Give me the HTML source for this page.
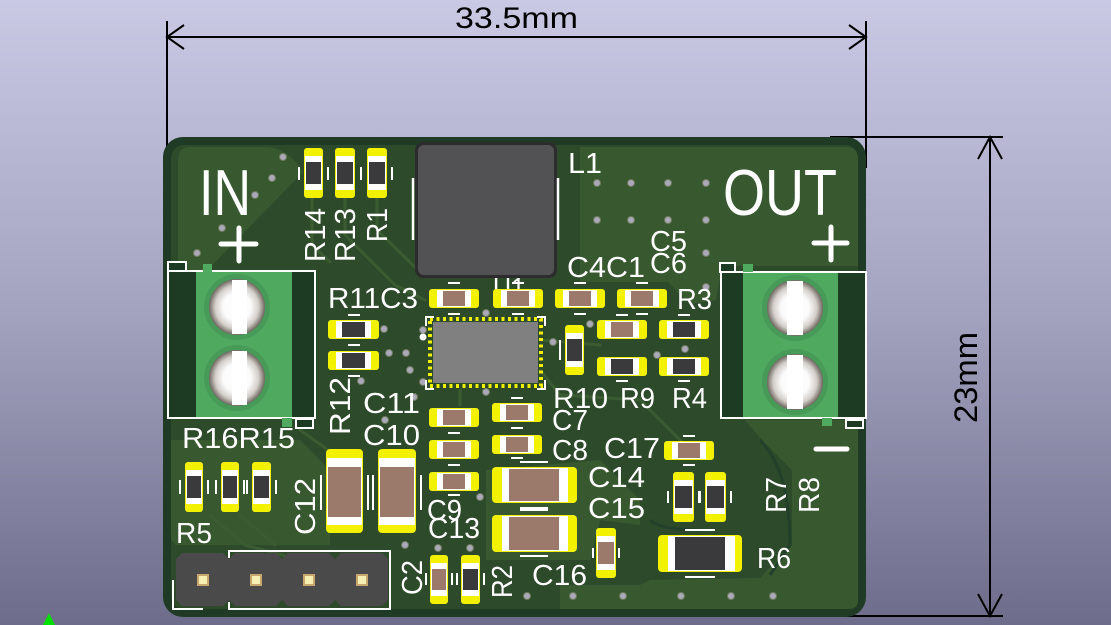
<!DOCTYPE html>
<html><head><meta charset="utf-8"><style>
html,body{margin:0;padding:0;width:1111px;height:625px;overflow:hidden;}
svg{display:block;}
text{font-family:"Liberation Sans",sans-serif;}
</style></head><body>
<svg width="1111" height="625" viewBox="0 0 1111 625" xmlns="http://www.w3.org/2000/svg">
<defs>
<linearGradient id="bg" x1="0" y1="0" x2="0" y2="1">
<stop offset="0" stop-color="#c9c9e4"/><stop offset="0.5" stop-color="#a3a3c0"/><stop offset="1" stop-color="#6d6d8b"/>
</linearGradient>
<radialGradient id="hole" cx="0.5" cy="0.5" r="0.5">
<stop offset="0" stop-color="#ffffff"/><stop offset="0.5" stop-color="#fbfbfb"/><stop offset="0.78" stop-color="#d2cdc8"/><stop offset="1" stop-color="#6f6660"/>
</radialGradient>
</defs>
<rect width="1111" height="625" fill="url(#bg)"/>

<!-- dimensions -->
<g stroke="#000" stroke-width="2" fill="none">
<line x1="167" y1="21" x2="167" y2="168"/>
<line x1="866" y1="21" x2="866" y2="168"/>
<line x1="167" y1="37" x2="866" y2="37"/>
<polyline points="184,25 167,37 184,49"/>
<polyline points="849,25 866,37 849,49"/>
<line x1="830" y1="137" x2="1003" y2="137"/>
<line x1="828" y1="616" x2="1003" y2="616"/>
<line x1="990" y1="137" x2="990" y2="616"/>
<polyline points="978,159 990,137 1002,159"/>
<polyline points="978,594 990,616 1002,594"/>
</g>
<text x="455" y="28" font-size="30" fill="#000" textLength="123" lengthAdjust="spacingAndGlyphs">33.5mm</text>
<text transform="translate(977,423) rotate(-90)" font-size="32" fill="#000" textLength="91" lengthAdjust="spacingAndGlyphs">23mm</text>

<!-- board -->
<rect x="163" y="137" width="703" height="480" rx="20" fill="#1f3b26"/>
<rect x="171" y="145" width="687" height="464" rx="13" fill="#2d4b2a"/>
<!-- lighter pours -->
<g fill="#385930">
<path d="M178,160 Q178,147 191,147 L268,147 Q282,148 296,162 L303,172 L186,292 L178,292 Z"/>
<path d="M580,147 L846,147 Q858,147 858,159 L858,266 L722,266 L716,300 L690,304 L668,282 L580,282 Z"/>
<path d="M745,420 L858,420 L858,600 Q858,609 849,609 L560,609 L560,585 L640,585 L650,580 L760,578 L792,545 L792,470 L762,440 Z"/>
<path d="M171,440 L300,440 L330,470 L330,545 L176,545 L171,540 Z"/>
<path d="M486,470 L600,460 L640,500 L640,525 L600,520 L590,560 L486,560 Z"/>
</g>
<!-- some traces -->
<g stroke="#3b5c32" stroke-width="3" fill="none" stroke-linecap="round">
<polyline points="345,198 345,235 395,285 425,300"/>
<polyline points="377,198 377,230 420,272"/>
<polyline points="312,198 312,245 330,262"/>
<polyline points="300,430 335,455"/>
<polyline points="210,515 245,545 300,560"/>
<polyline points="240,515 275,545"/>
<polyline points="540,340 600,345"/>
<polyline points="460,390 460,405"/>
<polyline points="540,370 560,395 640,400 690,450"/>
</g>
<g stroke="#22402a" stroke-width="3" fill="none">
<path d="M760,440 Q790,470 790,545 L770,575"/>
<path d="M650,520 Q660,530 700,530"/>
</g>

<!-- L1 -->
<rect x="415" y="142" width="142" height="136" rx="8" fill="#2c2b2d"/>
<rect x="418" y="145" width="136" height="130" rx="6" fill="#525153"/>
<g stroke="#fff" stroke-width="2.5">
<line x1="413" y1="178" x2="413" y2="240"/>
<line x1="558" y1="178" x2="558" y2="240"/>
</g>

<!-- vias -->
<g fill="#a9a9b9" stroke="#6f7a5c" stroke-width="1">
<circle cx="283" cy="157" r="3.5"/><circle cx="272" cy="178" r="3.5"/><circle cx="255" cy="195" r="3.5"/><circle cx="222" cy="228" r="3.5"/><circle cx="197" cy="253" r="3.5"/>
<circle cx="597" cy="183" r="3.5"/><circle cx="631" cy="183" r="3.5"/><circle cx="668" cy="183" r="3.5"/><circle cx="706" cy="183" r="3.5"/>
<circle cx="597" cy="220" r="3.5"/><circle cx="631" cy="220" r="3.5"/><circle cx="668" cy="220" r="3.5"/><circle cx="706" cy="220" r="3.5"/>
<circle cx="706" cy="253" r="3.5"/><circle cx="706" cy="287" r="3.5"/>
<circle cx="486" cy="313" r="3.5"/><circle cx="423" cy="330" r="3.5"/><circle cx="553" cy="342" r="3.5"/><circle cx="590" cy="324" r="3.5"/><circle cx="657" cy="355" r="3.5"/><circle cx="685" cy="349" r="3.5"/>
<circle cx="384" cy="329" r="3.5"/><circle cx="389" cy="353" r="3.5"/><circle cx="406" cy="353" r="3.5"/><circle cx="410" cy="370" r="3.5"/><circle cx="423" cy="382" r="3.5"/><circle cx="361" cy="381" r="3.5"/><circle cx="414" cy="397" r="3.5"/><circle cx="486" cy="392" r="3.5"/><circle cx="385" cy="420" r="3.5"/>
<circle cx="480" cy="497" r="3.5"/><circle cx="405" cy="545" r="3.5"/><circle cx="438" cy="548" r="3.5"/><circle cx="470" cy="548" r="3.5"/>
<circle cx="527" cy="596" r="3.5"/><circle cx="573" cy="596" r="3.5"/><circle cx="623" cy="596" r="3.5"/><circle cx="681" cy="596" r="3.5"/><circle cx="731" cy="596" r="3.5"/><circle cx="773" cy="596" r="3.5"/>
</g>

<!-- U1 -->
<text x="493" y="298" font-size="29" fill="#fff" textLength="32" lengthAdjust="spacingAndGlyphs">U1</text>
<rect x="430" y="319" width="111" height="67" fill="none" stroke="#f2f200" stroke-width="4" stroke-dasharray="3 3.5"/>
<rect x="433" y="322" width="105" height="61" fill="#808080"/>
<g stroke="#fff" stroke-width="2" fill="none">
<polyline points="426,326 426,317 434,317"/><polyline points="537,317 545,317 545,326"/>
<polyline points="426,380 426,389 434,389"/><polyline points="537,389 545,389 545,380"/>
</g>
<circle cx="423" cy="337" r="3.5" fill="#fff"/>

<!-- small horizontal chips -->
<g>
<!-- top row caps -->
<rect x="429" y="289" width="50" height="19" rx="3" fill="#f2f200"/><rect x="437" y="290" width="34" height="17" fill="#fff"/><rect x="443" y="291" width="22" height="15" fill="#9b7a6b"/>
<rect x="493" y="289" width="50" height="19" rx="3" fill="#f2f200"/><rect x="501" y="290" width="34" height="17" fill="#fff"/><rect x="507" y="291" width="22" height="15" fill="#9b7a6b"/>
<rect x="555" y="289" width="50" height="19" rx="3" fill="#f2f200"/><rect x="563" y="290" width="34" height="17" fill="#fff"/><rect x="569" y="291" width="22" height="15" fill="#9b7a6b"/>
<rect x="617" y="289" width="50" height="19" rx="3" fill="#f2f200"/><rect x="625" y="290" width="34" height="17" fill="#fff"/><rect x="631" y="291" width="22" height="15" fill="#9b7a6b"/>
<!-- rows right of U1 -->
<rect x="597" y="320" width="50" height="19" rx="3" fill="#f2f200"/><rect x="605" y="321" width="34" height="17" fill="#fff"/><rect x="611" y="322" width="22" height="15" fill="#9b7a6b"/>
<rect x="659" y="320" width="50" height="19" rx="3" fill="#f2f200"/><rect x="667" y="321" width="34" height="17" fill="#fff"/><rect x="673" y="322" width="22" height="15" fill="#3a3a3c"/>
<rect x="597" y="357" width="50" height="19" rx="3" fill="#f2f200"/><rect x="605" y="358" width="34" height="17" fill="#fff"/><rect x="611" y="359" width="22" height="15" fill="#3a3a3c"/>
<rect x="659" y="357" width="50" height="19" rx="3" fill="#f2f200"/><rect x="667" y="358" width="34" height="17" fill="#fff"/><rect x="673" y="359" width="22" height="15" fill="#3a3a3c"/>
<!-- left col caps -->
<rect x="429" y="408" width="50" height="19" rx="3" fill="#f2f200"/><rect x="437" y="409" width="34" height="17" fill="#fff"/><rect x="443" y="410" width="22" height="15" fill="#9b7a6b"/>
<rect x="429" y="440" width="50" height="19" rx="3" fill="#f2f200"/><rect x="437" y="441" width="34" height="17" fill="#fff"/><rect x="443" y="442" width="22" height="15" fill="#9b7a6b"/>
<rect x="429" y="472" width="50" height="19" rx="3" fill="#f2f200"/><rect x="437" y="473" width="34" height="17" fill="#fff"/><rect x="443" y="474" width="22" height="15" fill="#9b7a6b"/>
<!-- mid col caps -->
<rect x="492" y="403" width="50" height="19" rx="3" fill="#f2f200"/><rect x="500" y="404" width="34" height="17" fill="#fff"/><rect x="506" y="405" width="22" height="15" fill="#9b7a6b"/>
<rect x="492" y="435" width="50" height="19" rx="3" fill="#f2f200"/><rect x="500" y="436" width="34" height="17" fill="#fff"/><rect x="506" y="437" width="22" height="15" fill="#9b7a6b"/>
<!-- C17 -->
<rect x="664" y="441" width="50" height="19" rx="3" fill="#f2f200"/><rect x="672" y="442" width="34" height="17" fill="#fff"/><rect x="678" y="443" width="22" height="15" fill="#9b7a6b"/>
<!-- R11 R12 -->
<rect x="328" y="320" width="51" height="19" rx="3" fill="#f2f200"/><rect x="336" y="321" width="35" height="17" fill="#fff"/><rect x="342" y="322" width="23" height="15" fill="#3a3a3c"/>
<rect x="328" y="351" width="51" height="19" rx="3" fill="#f2f200"/><rect x="336" y="352" width="35" height="17" fill="#fff"/><rect x="342" y="353" width="23" height="15" fill="#3a3a3c"/>
</g>

<!-- small vertical chips -->
<g>
<rect x="304" y="148" width="19" height="50" rx="3" fill="#f2f200"/><rect x="305" y="156" width="17" height="34" fill="#fff"/><rect x="306" y="162" width="15" height="22" fill="#3a3a3c"/>
<rect x="335" y="148" width="20" height="50" rx="3" fill="#f2f200"/><rect x="336" y="156" width="18" height="34" fill="#fff"/><rect x="337" y="162" width="16" height="22" fill="#3a3a3c"/>
<rect x="367" y="148" width="20" height="50" rx="3" fill="#f2f200"/><rect x="368" y="156" width="18" height="34" fill="#fff"/><rect x="369" y="162" width="16" height="22" fill="#3a3a3c"/>
<rect x="565" y="325" width="19" height="50" rx="3" fill="#f2f200"/><rect x="566" y="333" width="17" height="34" fill="#fff"/><rect x="567" y="339" width="15" height="22" fill="#3a3a3c"/>
<rect x="185" y="462" width="18" height="50" rx="3" fill="#f2f200"/><rect x="186" y="470" width="16" height="34" fill="#fff"/><rect x="187" y="476" width="14" height="22" fill="#3a3a3c"/>
<rect x="221" y="462" width="18" height="50" rx="3" fill="#f2f200"/><rect x="222" y="470" width="16" height="34" fill="#fff"/><rect x="223" y="476" width="14" height="22" fill="#3a3a3c"/>
<rect x="252" y="462" width="19" height="50" rx="3" fill="#f2f200"/><rect x="253" y="470" width="17" height="34" fill="#fff"/><rect x="254" y="476" width="15" height="22" fill="#3a3a3c"/>
<rect x="673" y="472" width="21" height="50" rx="3" fill="#f2f200"/><rect x="674" y="480" width="19" height="34" fill="#fff"/><rect x="675" y="486" width="17" height="22" fill="#3a3a3c"/>
<rect x="705" y="472" width="21" height="50" rx="3" fill="#f2f200"/><rect x="706" y="480" width="19" height="34" fill="#fff"/><rect x="707" y="486" width="17" height="22" fill="#3a3a3c"/>
<rect x="430" y="555" width="18" height="49" rx="3" fill="#f2f200"/><rect x="431" y="563" width="16" height="33" fill="#fff"/><rect x="432" y="569" width="14" height="21" fill="#9b7a6b"/>
<rect x="461" y="555" width="19" height="49" rx="3" fill="#f2f200"/><rect x="462" y="563" width="17" height="33" fill="#fff"/><rect x="463" y="569" width="15" height="21" fill="#3a3a3c"/>
<rect x="596" y="528" width="20" height="50" rx="3" fill="#f2f200"/><rect x="597" y="536" width="18" height="34" fill="#fff"/><rect x="598" y="542" width="16" height="22" fill="#9b7a6b"/>
</g>

<!-- big chips -->
<g>
<rect x="326" y="449" width="37" height="84" rx="4" fill="#f2f200"/><rect x="327" y="458" width="35" height="67" fill="#fff"/><rect x="328" y="467" width="33" height="50" fill="#9b7a6b"/>
<rect x="378" y="449" width="38" height="84" rx="4" fill="#f2f200"/><rect x="379" y="458" width="36" height="67" fill="#fff"/><rect x="380" y="467" width="34" height="50" fill="#9b7a6b"/>
<rect x="492" y="467" width="85" height="36" rx="4" fill="#f2f200"/><rect x="502" y="468" width="66" height="34" fill="#fff"/><rect x="509" y="469" width="50" height="32" fill="#9b7a6b"/>
<rect x="492" y="515" width="85" height="37" rx="4" fill="#f2f200"/><rect x="502" y="516" width="66" height="35" fill="#fff"/><rect x="509" y="517" width="50" height="33" fill="#9b7a6b"/>
<rect x="658" y="535" width="84" height="37" rx="4" fill="#f2f200"/><rect x="668" y="536" width="67" height="35" fill="#fff"/><rect x="675" y="537" width="50" height="33" fill="#3a3a3c"/>
</g>

<!-- silk small marks -->
<g stroke="#fff" stroke-width="2">
<line x1="299" y1="167" x2="299" y2="180"/><line x1="328" y1="167" x2="328" y2="180"/><line x1="361" y1="167" x2="361" y2="180"/><line x1="392" y1="167" x2="392" y2="180"/>
<line x1="448" y1="283" x2="460" y2="283"/><line x1="448" y1="314" x2="460" y2="314"/>
<line x1="512" y1="283" x2="524" y2="283"/><line x1="512" y1="314" x2="524" y2="314"/>
<line x1="574" y1="283" x2="586" y2="283"/><line x1="574" y1="314" x2="586" y2="314"/>
<line x1="636" y1="283" x2="648" y2="283"/><line x1="636" y1="314" x2="648" y2="314"/>
<line x1="348" y1="315" x2="360" y2="315"/><line x1="348" y1="345" x2="360" y2="345"/><line x1="348" y1="376" x2="360" y2="376"/>
<line x1="616" y1="315" x2="628" y2="315"/><line x1="678" y1="315" x2="690" y2="315"/>
<line x1="616" y1="381" x2="628" y2="381"/><line x1="678" y1="381" x2="690" y2="381"/>
<line x1="560" y1="340" x2="560" y2="360"/>
<line x1="448" y1="433" x2="460" y2="433"/><line x1="448" y1="465" x2="460" y2="465"/><line x1="448" y1="495" x2="460" y2="495"/>
<line x1="511" y1="398" x2="523" y2="398"/><line x1="511" y1="428" x2="523" y2="428"/><line x1="511" y1="458" x2="523" y2="458"/>
<line x1="683" y1="436" x2="695" y2="436"/><line x1="683" y1="465" x2="695" y2="465"/>
<line x1="180" y1="480" x2="180" y2="494"/><line x1="208" y1="480" x2="208" y2="494"/><line x1="216" y1="480" x2="216" y2="494"/><line x1="244" y1="480" x2="244" y2="494"/><line x1="247" y1="480" x2="247" y2="494"/><line x1="276" y1="480" x2="276" y2="494"/>
<line x1="321" y1="475" x2="321" y2="510"/><line x1="368" y1="475" x2="368" y2="510"/><line x1="373" y1="475" x2="373" y2="510"/><line x1="421" y1="475" x2="421" y2="510"/>
<line x1="520" y1="462" x2="548" y2="462"/><line x1="520" y1="508" x2="548" y2="508"/><line x1="520" y1="510" x2="548" y2="510"/><line x1="520" y1="556" x2="548" y2="556"/>
<line x1="668" y1="491" x2="668" y2="503"/><line x1="699" y1="491" x2="699" y2="503"/><line x1="700" y1="491" x2="700" y2="503"/><line x1="731" y1="491" x2="731" y2="503"/>
<line x1="685" y1="530" x2="715" y2="530"/><line x1="685" y1="577" x2="715" y2="577"/>
<line x1="593" y1="548" x2="593" y2="558"/><line x1="619" y1="548" x2="619" y2="558"/>
<line x1="426" y1="573" x2="426" y2="585"/><line x1="452" y1="573" x2="452" y2="585"/><line x1="457" y1="573" x2="457" y2="585"/><line x1="484" y1="573" x2="484" y2="585"/>
</g>

<!-- pin header -->
<g fill="#4b4a4b">
<polygon points="182,553 223,553 229,559 229,600 223,606 182,606 176,600 176,559"/>
<polygon points="235,553 276,553 282,559 282,600 276,606 235,606 229,600 229,559"/>
<polygon points="288,553 329,553 335,559 335,600 329,606 288,606 282,600 282,559"/>
<polygon points="341,553 382,553 388,559 388,600 382,606 341,606 335,600 335,559"/>
</g>
<g fill="#c7a76e">
<rect x="197" y="574" width="12" height="12"/><rect x="250" y="574" width="12" height="12"/><rect x="303" y="574" width="12" height="12"/><rect x="356" y="574" width="12" height="12"/>
</g>
<g fill="#f6efb4">
<rect x="199" y="576" width="8" height="8"/><rect x="252" y="576" width="8" height="8"/><rect x="305" y="576" width="8" height="8"/><rect x="358" y="576" width="8" height="8"/>
</g>
<g stroke="#fff" stroke-width="2" fill="none">
<polyline points="229,558 229,551 390,551 390,609 229,609 229,602"/>
<polyline points="173,580 173,609 203,609"/>
</g>

<!-- IN terminal -->
<rect x="168" y="271" width="147" height="147" fill="#1d3b22" stroke="#fff" stroke-width="2"/>
<rect x="196" y="272" width="96" height="145" fill="#4fa95e"/>
<rect x="203" y="264" width="9" height="8" fill="#4fa95e"/>
<rect x="282" y="418" width="10" height="9" fill="#4fa95e"/>
<rect x="168" y="262" width="18" height="9" fill="#1d3b22" stroke="#fff" stroke-width="2"/>
<rect x="296" y="419" width="17" height="9" fill="#1d3b22" stroke="#fff" stroke-width="2"/>
<circle cx="237" cy="307" r="33" fill="#479a58"/>
<circle cx="237" cy="378" r="33" fill="#479a58"/>
<circle cx="237" cy="307" r="28" fill="url(#hole)"/>
<circle cx="237" cy="378" r="28" fill="url(#hole)"/>
<rect x="232" y="280" width="15" height="54" fill="#fff"/>
<rect x="232" y="351" width="15" height="54" fill="#fff"/>

<!-- OUT terminal -->
<rect x="721" y="272" width="145" height="146" fill="#1d3b22" stroke="#fff" stroke-width="2"/>
<rect x="743" y="273" width="95" height="144" fill="#4fa95e"/>
<rect x="743" y="264" width="10" height="8" fill="#4fa95e"/>
<rect x="822" y="418" width="10" height="8" fill="#4fa95e"/>
<rect x="720" y="263" width="15" height="9" fill="#1d3b22" stroke="#fff" stroke-width="2"/>
<rect x="846" y="420" width="17" height="8" fill="#1d3b22" stroke="#fff" stroke-width="2"/>
<circle cx="795" cy="308" r="33" fill="#479a58"/>
<circle cx="795" cy="382" r="33" fill="#479a58"/>
<circle cx="795" cy="308" r="28" fill="url(#hole)"/>
<circle cx="795" cy="382" r="28" fill="url(#hole)"/>
<rect x="787" y="281" width="16" height="54" fill="#fff"/>
<rect x="787" y="355" width="16" height="54" fill="#fff"/>

<!-- plus / minus -->
<g stroke="#fff" stroke-width="5" stroke-linecap="round">
<line x1="221" y1="244" x2="256" y2="244"/><line x1="239" y1="228" x2="239" y2="261"/>
<line x1="814" y1="243" x2="847" y2="243"/><line x1="831" y1="227" x2="831" y2="260"/>
<line x1="816" y1="449" x2="847" y2="449"/>
</g>

<!-- labels -->
<g fill="#fff" font-size="29">
<text x="199" y="215" font-size="65" textLength="52" lengthAdjust="spacingAndGlyphs">IN</text>
<text x="723" y="215" font-size="65" textLength="114" lengthAdjust="spacingAndGlyphs">OUT</text>
<text x="568" y="173" textLength="34" lengthAdjust="spacingAndGlyphs">L1</text>
<text x="650" y="251" textLength="37" lengthAdjust="spacingAndGlyphs">C5</text>
<text x="567" y="277" textLength="78" lengthAdjust="spacingAndGlyphs">C4C1</text>
<text x="650" y="273" textLength="37" lengthAdjust="spacingAndGlyphs">C6</text>
<text x="328" y="308" textLength="90" lengthAdjust="spacingAndGlyphs">R11C3</text>
<text x="677" y="309" textLength="35" lengthAdjust="spacingAndGlyphs">R3</text>
<text x="553" y="408" textLength="55" lengthAdjust="spacingAndGlyphs">R10</text>
<text x="620" y="408" textLength="35" lengthAdjust="spacingAndGlyphs">R9</text>
<text x="672" y="408" textLength="35" lengthAdjust="spacingAndGlyphs">R4</text>
<text x="363" y="413" textLength="57" lengthAdjust="spacingAndGlyphs">C11</text>
<text x="363" y="445" textLength="57" lengthAdjust="spacingAndGlyphs">C10</text>
<text x="552" y="430" textLength="36" lengthAdjust="spacingAndGlyphs">C7</text>
<text x="552" y="460" textLength="36" lengthAdjust="spacingAndGlyphs">C8</text>
<text x="604" y="458" textLength="56" lengthAdjust="spacingAndGlyphs">C17</text>
<text x="588" y="487" textLength="57" lengthAdjust="spacingAndGlyphs">C14</text>
<text x="588" y="518" textLength="57" lengthAdjust="spacingAndGlyphs">C15</text>
<text x="427" y="520" textLength="35" lengthAdjust="spacingAndGlyphs">C9</text>
<text x="428" y="538" textLength="52" lengthAdjust="spacingAndGlyphs">C13</text>
<text x="532" y="585" textLength="55" lengthAdjust="spacingAndGlyphs">C16</text>
<text x="757" y="568" textLength="34" lengthAdjust="spacingAndGlyphs">R6</text>
<text x="182" y="448" textLength="113" lengthAdjust="spacingAndGlyphs">R16R15</text>
<text x="176" y="543" textLength="36" lengthAdjust="spacingAndGlyphs">R5</text>
<text transform="translate(325,262) rotate(-90)" textLength="54" lengthAdjust="spacingAndGlyphs">R14</text>
<text transform="translate(355,262) rotate(-90)" textLength="54" lengthAdjust="spacingAndGlyphs">R13</text>
<text transform="translate(387,242) rotate(-90)" textLength="34" lengthAdjust="spacingAndGlyphs">R1</text>
<text transform="translate(350,435) rotate(-90)" textLength="58" lengthAdjust="spacingAndGlyphs">R12</text>
<text transform="translate(315,535) rotate(-90)" textLength="57" lengthAdjust="spacingAndGlyphs">C12</text>
<text transform="translate(422,595) rotate(-90)" textLength="35" lengthAdjust="spacingAndGlyphs">C2</text>
<text transform="translate(512,598) rotate(-90)" textLength="33" lengthAdjust="spacingAndGlyphs">R2</text>
<text transform="translate(786,513) rotate(-90)" textLength="36" lengthAdjust="spacingAndGlyphs">R7</text>
<text transform="translate(819,513) rotate(-90)" textLength="36" lengthAdjust="spacingAndGlyphs">R8</text>
</g>

<!-- origin marker -->
<polygon points="49,613 43,625 55,625" fill="#00e000"/>
</svg>
</body></html>
